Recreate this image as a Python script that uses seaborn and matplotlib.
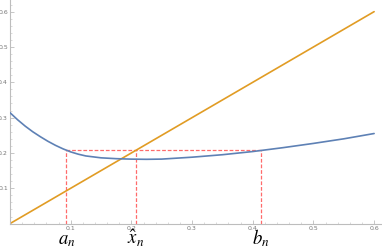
import matplotlib
matplotlib.use("Agg")
import matplotlib.pyplot as plt
import pandas as pd
import seaborn as sns
from matplotlib.ticker import MultipleLocator

sns.set_theme(style="white")
plt.rcParams["font.family"] = ["DejaVu Sans"]
plt.rcParams["mathtext.fontset"] = "stix"

# blue curve
curve_x = [0.0, 0.0125, 0.025, 0.0375, 0.05, 0.0625, 0.075, 0.0875, 0.1, 0.1125,
           0.125, 0.15, 0.175, 0.2, 0.225, 0.25, 0.3, 0.35, 0.4, 0.45, 0.5, 0.55, 0.6]
curve_y = [0.314, 0.294, 0.276, 0.260, 0.246, 0.233, 0.2215, 0.2115, 0.203, 0.1965,
           0.1915, 0.1862, 0.1838, 0.1825, 0.182, 0.1826, 0.188, 0.195, 0.204, 0.215,
           0.227, 0.240, 0.255]

# orange diagonal y = x
line_x = [0.0, 0.6]
line_y = [0.0, 0.6]

# bracket points
a_n = 0.093
x_hat = 0.207
b_n = 0.414
level = 0.207
point_x = [a_n, x_hat, b_n]
point_labels = [r"$a_n$", r"$\hat{x}_n$", r"$b_n$"]

tick_vals = [0.1, 0.2, 0.3, 0.4, 0.5, 0.6]

curve = pd.DataFrame({"x": curve_x, "y": curve_y})
diag = pd.DataFrame({"x": line_x, "y": line_y})

fig = plt.figure(figsize=(3.82, 2.46), dpi=100)
ax = fig.add_axes([10 / 382, 22.4 / 246, 372 / 382, 223.6 / 246])

red = "#ff6b6b"
for px in point_x:
    ax.plot([px, px], [0, level], color=red, lw=0.9, ls=(0, (3, 1.5)), zorder=1)
ax.plot([a_n, b_n], [level, level], color=red, lw=0.9, ls=(0, (3, 1.5)), zorder=1)

sns.lineplot(data=curve, x="x", y="y", color="#5e81b5", lw=1.2, ax=ax, zorder=3)
sns.lineplot(data=diag, x="x", y="y", color="#e19c24", lw=1.2, ax=ax, zorder=2)

ax.set_xlim(0, 0.613)
ax.set_ylim(0, 0.633)
ax.set_xlabel("")
ax.set_ylabel("")

for side in ["top", "right"]:
    ax.spines[side].set_visible(False)
for side in ["left", "bottom"]:
    ax.spines[side].set_color("#bdbdbd")
    ax.spines[side].set_linewidth(0.8)

ax.set_xticks(tick_vals)
ax.set_yticks(tick_vals)
ax.set_xticklabels([f"{v:.1f}" for v in tick_vals])
ax.set_yticklabels([f"{v:.1f}" for v in tick_vals])
ax.xaxis.set_minor_locator(MultipleLocator(0.02))
ax.yaxis.set_minor_locator(MultipleLocator(0.02))
ax.tick_params(which="major", direction="in", length=3, width=0.6, color="#bdbdbd",
               labelsize=4.5, labelcolor="#777777", pad=1.5, bottom=True, left=True)
ax.tick_params(which="minor", direction="in", length=1.5, width=0.5, color="#cccccc",
               bottom=True, left=True)

for px, lab in zip(point_x, point_labels):
    ax.text(px, -0.058, lab, ha="center", va="baseline", fontsize=13.5, color="black",
            clip_on=False)

fig.savefig("out.png", dpi=100)
